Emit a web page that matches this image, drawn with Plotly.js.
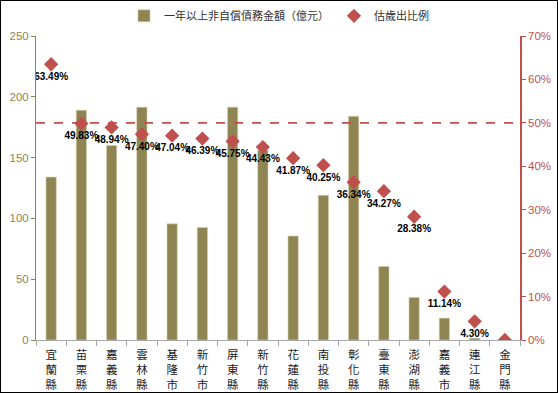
<!DOCTYPE html>
<html><head><meta charset="utf-8">
<script src="https://cdn.plot.ly/plotly-3.0.1.min.js"></script>
<style>html,body{margin:0;padding:0;background:#fff}#c{width:556px;height:391px;border:1px solid #000}</style>
</head><body><div id="c"></div>
<script>
const categories = ["宜蘭縣","苗栗縣","嘉義縣","雲林縣","基隆市","新竹市","屏東縣","新竹縣","花蓮縣","南投縣","彰化縣","臺東縣","澎湖縣","嘉義市","連江縣","金門縣"];
const debtAmount = [134, 189, 160, 191.5, 95.5, 92.5, 191.5, 156, 85.5, 119, 184, 60.5, 35, 18, 1.5, 0];
const ratio = [63.49, 49.83, 48.94, 47.40, 47.04, 46.39, 45.75, 44.43, 41.87, 40.25, 36.34, 34.27, 28.38, 11.14, 4.30, 0];
const ratioLabels = ["63.49%","49.83%","48.94%","47.40%","47.04%","46.39%","45.75%","44.43%","41.87%","40.25%","36.34%","34.27%","28.38%","11.14%","4.30%",""];
const threshold = 50;
const barName = "一年以上非自償債務金額（億元）";
const ratioName = "估歲出比例";

const tickText = categories.map(c => c.split("").join("<br>"));
const olive = "#8E8552", red = "#C0504D";
const cjk = "Noto Sans CJK TC, sans-serif";

const data = [
  {type:"bar", x:categories, y:debtAmount, name:barName, width:0.34,
   marker:{color:olive, line:{color:"#d8d2b0", width:0.6}}, yaxis:"y"},
  {type:"scatter", mode:"markers+text", x:categories, y:ratio, name:ratioName, yaxis:"y2",
   marker:{symbol:"diamond", size:11, color:red},
   text:ratioLabels, textposition:"bottom center",
   textfont:{family:"Liberation Sans, Arial, sans-serif", size:10, color:"#000", weight:"bold"}}
];

const layout = {
  width:556, height:391,
  margin:{l:35, r:37, t:35, b:52, autoexpand:false},
  paper_bgcolor:"#fff", plot_bgcolor:"#fff",
  font:{family:cjk, size:11},
  showlegend:true,
  legend:{orientation:"h", x:0.5, xanchor:"center", xref:"container", y:0.962, yanchor:"middle", yref:"container",
          font:{family:cjk, size:11, color:"#333"}, traceorder:"normal"},
  bargap:0.6,
  xaxis:{type:"category", range:[-0.5, categories.length-0.5], tickvals:categories, ticktext:tickText, tickangle:0,
         tickfont:{family:cjk, size:11.5, color:"#222"}, ticklabelstandoff:4,
         showline:true, linecolor:"#a8a8a8", ticks:"outside", tickson:"boundaries",
         ticklen:5, tickcolor:"#a8a8a8", showgrid:false, zeroline:false},
  yaxis:{range:[0,250], dtick:50, showgrid:false, zeroline:false,
         showline:true, linecolor:olive, linewidth:1, ticks:"outside", ticklen:4, tickcolor:olive,
         tickfont:{family:"Liberation Sans, Arial, sans-serif", size:11.5, color:olive}},
  yaxis2:{range:[0,70], dtick:10, ticksuffix:"%", overlaying:"y", side:"right",
         showgrid:false, zeroline:false, showline:true, linecolor:red, linewidth:1.5,
         ticks:"outside", ticklen:4, tickcolor:red,
         tickfont:{family:"Liberation Sans, Arial, sans-serif", size:11.5, color:red}},
  shapes:[{type:"line", xref:"paper", x0:0, x1:1, yref:"y2", y0:threshold, y1:threshold,
           line:{color:red, width:1.8, dash:"dash"}}]
};
Plotly.newPlot("c", data, layout, {displayModeBar:false});
</script></body></html>
